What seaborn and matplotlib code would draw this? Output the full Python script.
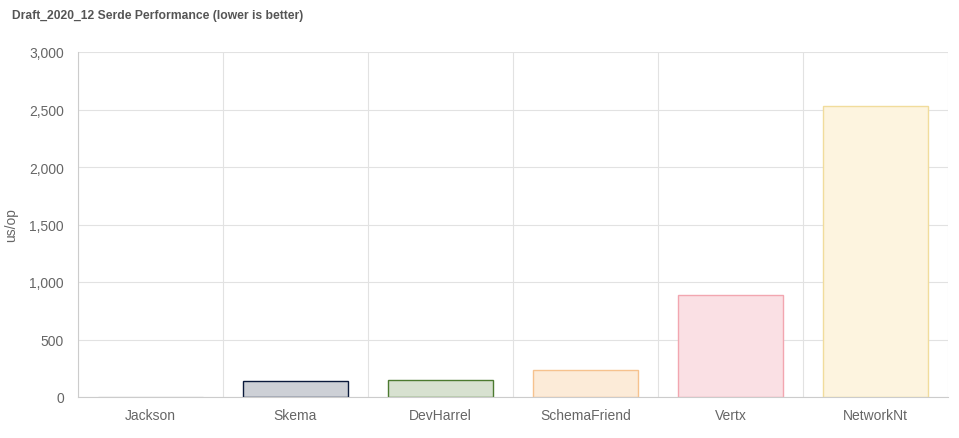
import numpy as np
import pandas as pd
import matplotlib
matplotlib.use("Agg")
import matplotlib.pyplot as plt
import seaborn as sns

libraries = ["Jackson", "Skema", "DevHarrel", "SchemaFriend", "Vertx", "NetworkNt"]
us_per_op = [3, 139, 148, 235, 887, 2530]

fill_colors = ["#f4f4f4", "#cdd0d6", "#d7e1d0", "#fcebd8", "#fae0e4", "#fdf4df"]
edge_colors = ["#d8d8d8", "#0b1a3c", "#4c7a30", "#f6c28e", "#f2a6b0", "#f1dc9c"]

df = pd.DataFrame({"library": libraries, "us_op": us_per_op})

sns.set_style("white")
plt.rcParams["font.family"] = ["Liberation Sans", "DejaVu Sans"]

fig = plt.figure(figsize=(9.59, 4.39), dpi=100)
ax = fig.add_axes([78 / 959, 1 - 398 / 439, 870 / 959, 345 / 439])

sns.barplot(
    data=df,
    x="library",
    y="us_op",
    hue="library",
    palette=fill_colors,
    saturation=1,
    width=0.72,
    linewidth=1,
    legend=False,
    ax=ax
)

for patch, ec in zip(ax.patches, edge_colors):
    patch.set_edgecolor(ec)

ax.set_xlim(-0.5, len(libraries) - 0.5)
ax.set_ylim(0, 3000)
ax.set_yticks(np.arange(0, 3001, 500))
ax.set_yticklabels([f"{v:,}" for v in range(0, 3001, 500)])

# grid lines sit between categories, like the original
ax.set_xticks(np.arange(-0.5, len(libraries)), minor=True)
ax.grid(True, which="minor", axis="x", color="#e2e2e2", linewidth=0.8)
ax.grid(True, which="major", axis="y", color="#e2e2e2", linewidth=0.8)
ax.set_axisbelow(True)
ax.tick_params(axis="x", which="major", length=0, pad=8, labelsize=10, labelcolor="#666666")
ax.tick_params(axis="x", which="minor", length=8, color="#e2e2e2", width=0.8)
ax.tick_params(axis="y", length=6, color="#e2e2e2", width=0.8, labelsize=10, labelcolor="#666666", pad=4)

for side in ["top", "right"]:
    ax.spines[side].set_visible(False)
ax.spines["left"].set_color("#cccccc")
ax.spines["bottom"].set_color("#cccccc")
ax.spines["left"].set_linewidth(0.8)
ax.spines["bottom"].set_linewidth(0.8)

ax.set_xlabel("")
ax.set_ylabel("us/op", fontsize=10, color="#666666", labelpad=8)

fig.text(12 / 959, 1 - 16 / 439, "Draft_2020_12 Serde Performance (lower is better)",
         fontsize=8.7, fontweight="bold", color="#555555", va="center", ha="left")

fig.savefig("out.png", dpi=100)
